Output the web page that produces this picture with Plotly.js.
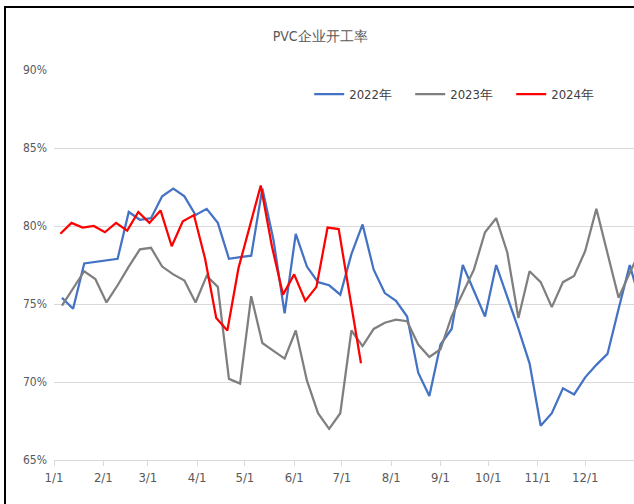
<!DOCTYPE html>
<html>
<head>
<meta charset="utf-8">
<script src="https://cdn.plot.ly/plotly-3.0.1.min.js"></script>
<style>
  html, body { margin: 0; padding: 0; background: #fff; }
  #chart { position: absolute; left: 0; top: 0; width: 634px; height: 504px; }
  #frame { position: absolute; left: 4px; top: 6px; width: 640px; height: 510px;
           border-left: 2px solid #000; border-top: 2px solid #000; pointer-events: none; }
</style>
</head>
<body>
<div id="chart"></div>
<div id="frame"></div>
<script>
// Month tick labels
const tickDates = ['2022-01-01','2022-02-01','2022-03-01','2022-04-01','2022-05-01','2022-06-01',
                   '2022-07-01','2022-08-01','2022-09-01','2022-10-01','2022-11-01','2022-12-01'];
const tickLabels = ['1/1','2/1','3/1','4/1','5/1','6/1','7/1','8/1','9/1','10/1','11/1','12/1'];

// Weekly start dates (month-day, on a common year axis)
const start2022 = '2022-01-06';
const start2023 = '2022-01-06';
const start2024 = '2022-01-05';

// Operating rate, % (weekly)
const values2022 = [75.4, 74.7, 77.6, 77.7, 77.8, 77.9, 80.9, 80.4, 80.5, 81.9,
                    82.4, 81.9, 80.7, 81.1, 80.2, 77.9, 78.0, 78.1, 82.4, 79.1,
                    74.4, 79.5, 77.4, 76.4, 76.2, 75.6, 78.2, 80.1, 77.2, 75.7,
                    75.2, 74.2, 70.6, 69.1, 72.4, 73.4, 77.5, 75.8, 74.2, 77.5,
                    75.5, 73.4, 71.2, 67.2, 68.0, 69.6, 69.2, 70.3, 71.1, 71.8,
                    74.7, 77.5, 75.0];
const values2023 = [74.9, 76.0, 77.1, 76.6, 75.1, 76.2, 77.4, 78.5, 78.6, 77.4,
                    76.9, 76.5, 75.1, 76.8, 76.1, 70.2, 69.9, 75.5, 72.5, 72.0,
                    71.5, 73.3, 70.1, 68.0, 67.0, 68.0, 73.3, 72.3, 73.4, 73.8,
                    74.0, 73.9, 72.4, 71.6, 72.1, 74.2, 75.7, 77.2, 79.6, 80.5,
                    78.3, 74.1, 77.1, 76.4, 74.8, 76.4, 76.8, 78.4, 81.1, 78.3,
                    75.4, 77.0, 78.5];
const values2024 = [79.5, 80.2, 79.9, 80.0, 79.6, 80.2, 79.7, 80.9, 80.2, 81.0,
                    78.7, 80.3, 80.7, 77.9, 74.1, 73.3, 77.3, 79.9, 82.6, 78.7,
                    75.6, 76.9, 75.2, 76.1, 79.9, 79.8, 75.5, 71.2];

const seriesNames = ['2022年', '2023年', '2024年'];
const seriesColors = ['#4472C4', '#7F7F7F', '#FF0000'];

function weeklyDates(start, n) {
  const d0 = new Date(start + 'T00:00:00Z');
  const out = [];
  for (let i = 0; i < n; i++) {
    const d = new Date(d0.getTime() + i * 7 * 86400000);
    out.push(d.toISOString().slice(0, 10));
  }
  return out;
}

const starts = [start2022, start2023, start2024];
const vals = [values2022, values2023, values2024];
const traces = vals.map((v, i) => ({
  type: 'scatter', mode: 'lines',
  x: weeklyDates(starts[i], v.length), y: v,
  name: seriesNames[i],
  line: { color: seriesColors[i], width: 2.25 },
  cliponaxis: true
}));

const fontFam = '"DejaVu Sans Condensed", "Liberation Sans Narrow", "Liberation Sans", sans-serif';
const layout = {
  width: 634, height: 504,
  margin: { l: 54, r: 0, t: 70, b: 44 },
  paper_bgcolor: '#ffffff', plot_bgcolor: '#ffffff',
  font: { family: fontFam, color: '#595959', size: 12 },
  title: { text: 'PVC企业开工率', x: 0.505, xanchor: 'center', y: 0.929, yanchor: 'middle',
           font: { size: 14, color: '#595959', family: fontFam } },
  showlegend: true,
  legend: { orientation: 'h', x: 0.44, xanchor: 'left', y: 0.938, yanchor: 'middle',
            font: { size: 13, color: '#404040' }, entrywidth: 56, entrywidthmode: 'pixels',
            bgcolor: 'rgba(0,0,0,0)' },
  xaxis: {
    type: 'date', range: ['2022-01-01', '2022-12-31 16:00'],
    tickmode: 'array', tickvals: tickDates, ticktext: tickLabels,
    ticks: 'outside', ticklen: 5, tickcolor: '#d9d9d9',
    showgrid: false, showline: true, linecolor: '#d9d9d9', linewidth: 1,
    tickfont: { size: 13, color: '#595959' }, zeroline: false
  },
  yaxis: {
    range: [65, 90], dtick: 5, tick0: 65, ticksuffix: '%',
    showgrid: true, gridcolor: '#d9d9d9', gridwidth: 1,
    showline: false, zeroline: false, ticks: '', ticklabelstandoff: 6,
    tickfont: { size: 12, color: '#595959' }
  }
};

Plotly.newPlot('chart', traces, layout, { displayModeBar: false, staticPlot: true });
</script>
</body>
</html>
